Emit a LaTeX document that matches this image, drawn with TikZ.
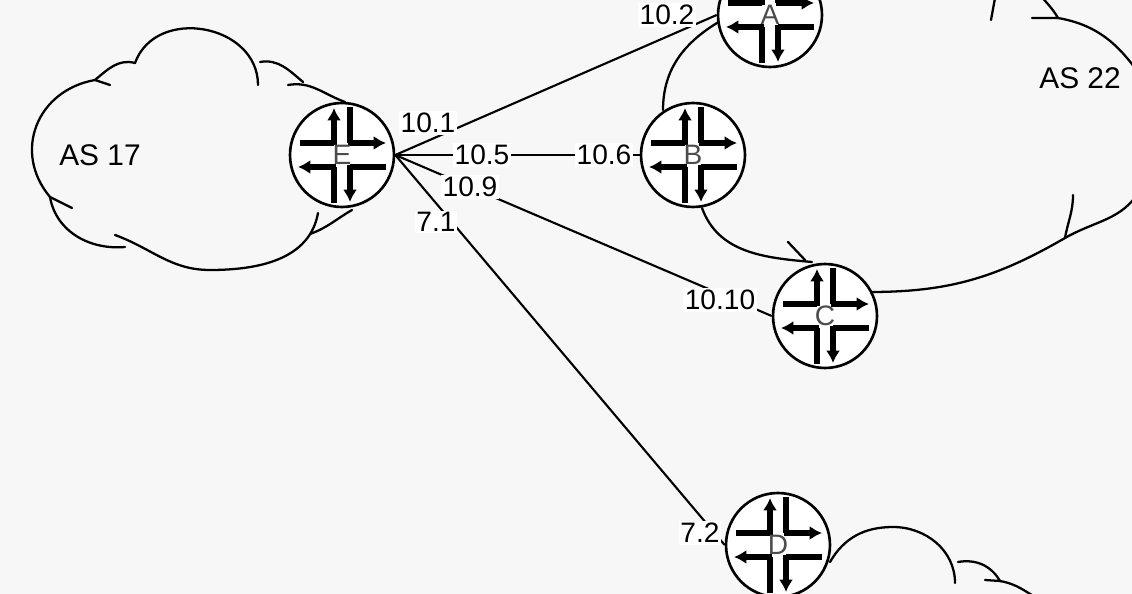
\documentclass[tikz,border=0pt]{standalone}
\usepackage{fontspec}
\setmainfont{Liberation Sans}
\usetikzlibrary{arrows.meta}
\begin{document}
\begin{tikzpicture}[x=0.02cm,y=-0.02cm,
  lbl/.style={fill=white,inner sep=1pt,font=\fontsize{16}{16}\selectfont},
  cloudline/.style={line width=1.3pt,line cap=round},
  link/.style={line width=1.2pt},
  rtr/.style={circle,draw,line width=1.5pt,fill=white,minimum size=2.08cm,inner sep=0pt},
  bar/.style={line width=3.2pt},
  arr/.style={line width=3.2pt,-{Latex[length=7pt,width=8pt]}}]
\useasboundingbox[fill=black!3] (0,0) rectangle (1132,594);
\begin{scope}
\clip (0,0) rectangle (1132,594);
% AS 17 cloud
\draw[cloudline] (72,208) -- (50,197) to[out=130,in=190,looseness=1.2] (95,80) -- (110,85);
\draw[cloudline] (95,80) to[out=40,in=165] (135,63);
\draw[cloudline] (135,63) to[out=70,in=90,looseness=1.25] (258,85);
\draw[cloudline] (260,62) to[out=10,in=140] (303,82);
\draw[cloudline] (288,85) to[out=10,in=160] (345,102);
\draw[cloudline] (318,213) to[out=260,in=0] (210,270) to[out=180,in=340] (115,235);
\draw[cloudline] (310,234) to[out=20,in=210] (352,210);
\draw[cloudline] (125,247) to[out=185,in=280] (50,197);
% AS 22 cloud
\draw[cloudline] (722,20) to[out=210,in=90] (663,110);
\draw[cloudline] (702,208) to[out=290,in=175] (812,262);
\draw[cloudline] (788,242) -- (805,260);
\draw[cloudline] (870,292) to[out=0,in=210] (1065,238) to[out=80,in=270] (1073,195);
\draw[cloudline] (1065,238) to[out=30,in=240] (1140,190);
\draw[cloudline] (995,-2) to[out=260,in=80] (991,20);
\draw[cloudline] (1040,-5) to[out=310,in=120] (1058,18) -- (1032,18);
\draw[cloudline] (1058,18) to[out=350,in=125] (1140,75);
% bottom right cloud
\draw[cloudline] (830,562) to[out=60,in=180] (893,527) to[out=0,in=90] (955,583);
\draw[cloudline] (958,562) to[out=10,in=120] (1000,581) -- (985,580);
\draw[cloudline] (1000,581) to[out=350,in=150] (1040,600);
\end{scope}
% routers
\foreach \n/\x/\y in {E/342/155,B/693/155,A/770/15,C/825/316,D/778/545}{
  \node[rtr] (\n) at (\x,\y) {};
  \begin{scope}[shift={(\x,\y)}]
    \clip (0,0) circle (52);
    \draw[bar] (-42,-12) -- (-8,-12); \draw[arr] (-8,-10) -- (-8,-47);
    \draw[bar] (8,-48) -- (8,-12); \draw[arr] (6,-12) -- (44,-12);
    \draw[bar] (44,12) -- (8,12); \draw[arr] (8,10) -- (8,47);
    \draw[bar] (-8,48) -- (-8,12); \draw[arr] (-6,12) -- (-44,12);
  \end{scope}
  \node[font=\fontsize{16}{16}\selectfont,text=black!70] at (\x,\y) {\n};
}
% links
\draw[link] (E.east) -- (A.west);
\node[lbl] at (428,123) {10.1}; \node[lbl] at (667,15) {10.2};
\draw[link] (E.east) -- (B.west);
\node[lbl] at (482,155) {10.5}; \node[lbl] at (604,155) {10.6};
\draw[link] (E.east) -- (C.west);
\node[lbl] at (470,187) {10.9}; \node[lbl] at (720,300) {10.10};
\draw[link] (E.east) -- (D.west);
\node[lbl] at (436,222) {7.1}; \node[lbl] at (700,533) {7.2};
\node[font=\fontsize{17}{17}\selectfont] at (100,155) {AS 17};
\node[font=\fontsize{17}{17}\selectfont] at (1080,78) {AS 22};
\end{tikzpicture}
\end{document}
